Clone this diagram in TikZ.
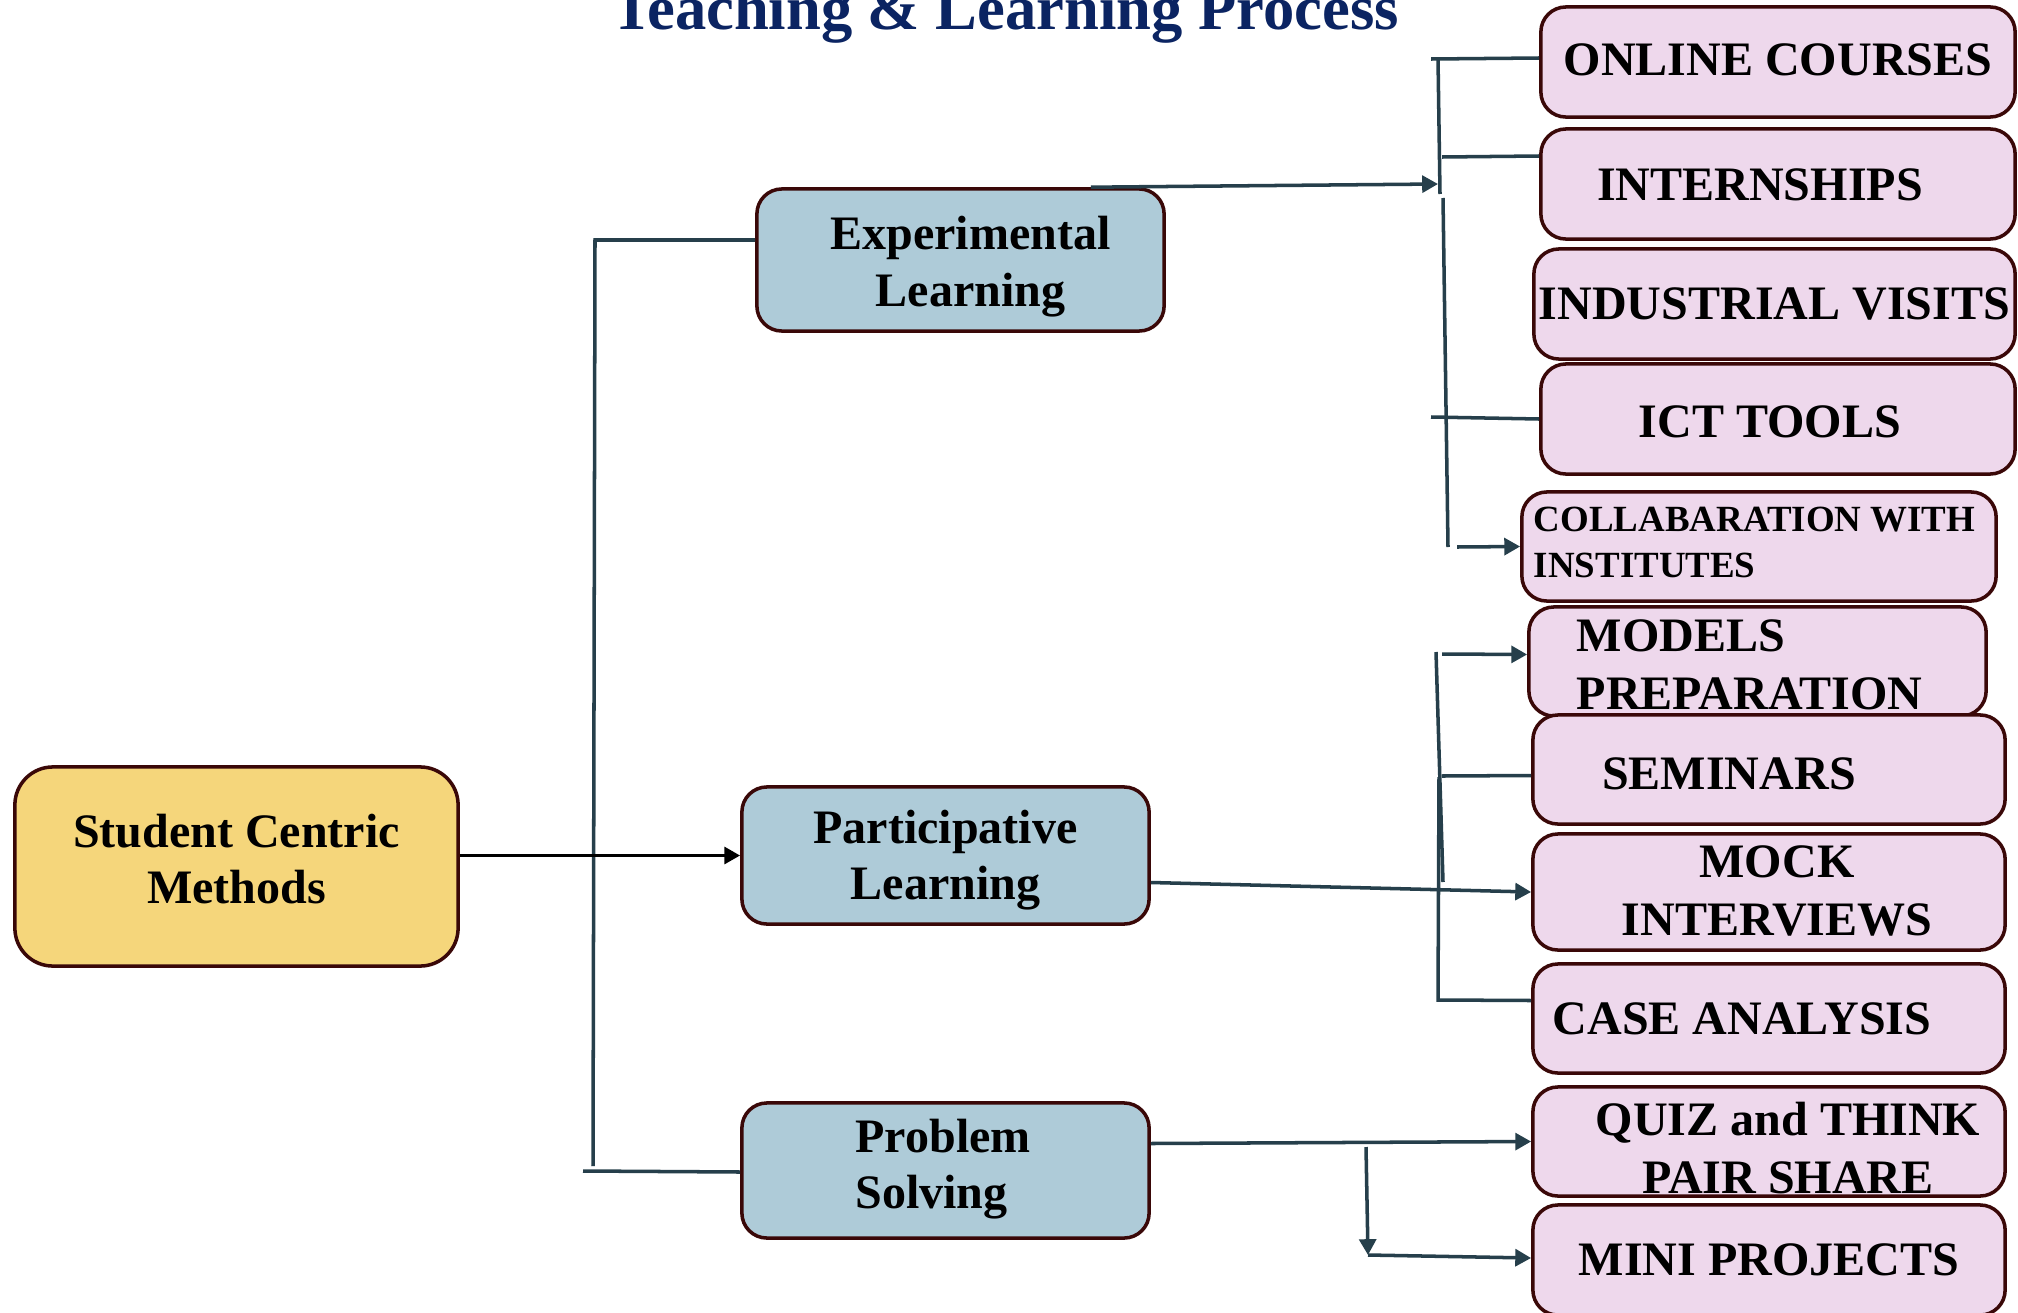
\documentclass[tikz,border=0pt]{standalone}
\usepackage{fontspec}
\setmainfont{Liberation Serif}
\usetikzlibrary{arrows.meta,calc}
\definecolor{titleblue}{HTML}{0B2462}
\definecolor{boxedge}{HTML}{3A0808}
\definecolor{yellowfill}{HTML}{F5D67B}
\definecolor{bluefill}{HTML}{AECBD8}
\definecolor{pinkfill}{HTML}{EED8EC}
\definecolor{linkcol}{HTML}{263F4B}
% #1 box height, #2 text width, #3 first baseline below top, #4 text
\newcommand\tbox[4]{\parbox[c][#1][t]{#2}{\vspace*{\dimexpr#3-\ht\strutbox\relax}\centering\strut #4}}
\begin{document}
\begin{tikzpicture}[x=0.01cm,y=-0.01cm,
  basebox/.style={draw=boxedge,line width=1pt,rounded corners=0.25cm,inner sep=0pt,
    font=\fontsize{13.66pt}{16.2pt}\selectfont\bfseries},
  mainbox/.style={basebox,fill=yellowfill,rounded corners=0.38cm,minimum width=4.43cm,minimum height=1.99cm},
  midbox/.style={basebox,fill=bluefill,minimum width=4.07cm},
  leafbox/.style={basebox,fill=pinkfill,minimum height=1.10cm},
  link/.style={draw=linkcol,line width=1pt},
  linkarrow/.style={link,-{Triangle[length=4.5pt,width=4.8pt]}},
]
\useasboundingbox (0,0) rectangle (2018,1312);
\fill[white] (0,0) rectangle (2018,1312);

% title
\node[anchor=base,text=titleblue,font=\fontsize{17.8pt}{20pt}\selectfont\bfseries] (title) at (1005,30) {Teaching \& Learning Process};

% main and middle boxes
\node[mainbox] (scm) at (236.5,866.5) {\tbox{1.99cm}{4.2cm}{0.80cm}{Student Centric\\Methods}};
\node[midbox,minimum height=1.42cm] (el) at (960.5,260) {\hspace*{0.2cm}\tbox{1.42cm}{3.6cm}{0.61cm}{Experimental\\Learning}};
\node[midbox,minimum height=1.37cm] (pl) at (945.5,855.5) {\tbox{1.37cm}{3.8cm}{0.56cm}{Participative\\Learning}};
\node[midbox,minimum height=1.35cm] (ps) at (945.5,1170.5) {\tbox{1.35cm}{1.8cm}{0.49cm}{\raggedright Problem\\Solving}};

% leaf boxes
\node[leafbox,minimum width=4.74cm] (online) at (1778,62) {\tbox{1.10cm}{4.5cm}{0.68cm}{ONLINE COURSES}};
\node[leafbox,minimum width=4.74cm] (intern) at (1778,184) {\tbox{1.10cm}{4.0cm}{0.71cm}{INTERNSHIPS}\hspace*{0.36cm}};
\node[leafbox,minimum width=4.81cm] (indus) at (1774.5,304) {\tbox{1.10cm}{4.75cm}{0.70cm}{INDUSTRIAL VISITS}};
\node[leafbox,minimum width=4.74cm] (ict) at (1778,419) {\tbox{1.10cm}{4.0cm}{0.73cm}{ICT TOOLS}\hspace*{0.16cm}};
\node[leafbox,minimum width=4.74cm,minimum height=1.09cm,font=\fontsize{10.5pt}{12.8pt}\selectfont\bfseries] (collab) at (1759,546.5) {\tbox{1.09cm}{4.5cm}{0.40cm}{\raggedright COLLABARATION WITH\\INSTITUTES}};
\node[leafbox,minimum width=4.57cm,minimum height=1.09cm,font=\fontsize{13.66pt}{16.5pt}\selectfont\bfseries] (models) at (1757.5,661.5) {\tbox{1.09cm}{3.61cm}{0.44cm}{\raggedright MODELS\\PREPARATION}};
\node[leafbox,minimum width=4.72cm,minimum height=1.09cm] (seminars) at (1769,769.5) {\tbox{1.09cm}{3.6cm}{0.74cm}{SEMINARS}\hspace*{0.8cm}};
\node[leafbox,minimum width=4.72cm,minimum height=1.16cm,font=\fontsize{13.66pt}{16.5pt}\selectfont\bfseries] (mock) at (1769,892) {\hspace*{0.16cm}\tbox{1.16cm}{4.0cm}{0.43cm}{MOCK\\INTERVIEWS}};
\node[leafbox,minimum width=4.72cm,minimum height=1.09cm] (case) at (1769,1018.5) {\tbox{1.09cm}{4.0cm}{0.70cm}{CASE ANALYSIS}\hspace*{0.54cm}};
\node[leafbox,minimum width=4.72cm,minimum height=1.09cm,font=\fontsize{13.66pt}{16.5pt}\selectfont\bfseries] (quiz) at (1769,1141.5) {\hspace*{0.38cm}\tbox{1.09cm}{4.1cm}{0.48cm}{QUIZ and THINK\\PAIR SHARE}};
\node[leafbox,minimum width=4.72cm] (mini) at (1769,1260) {\tbox{1.10cm}{4.5cm}{0.70cm}{MINI PROJECTS}};

% left bracket
\coordinate (lb1) at (595,240);
\coordinate (lb2) at (593,1166);
\coordinate (lb3) at (583,1171);
\draw[link] (el.west |- lb1) -- (lb1) -- (lb2);
\draw[link] (lb3) -- (ps.west |- 0,1172);

% main arrow
\draw[line width=1pt,-{Triangle[length=4.5pt,width=4.8pt]}] (scm.east |- pl.west) -- (pl.west);

% experimental learning group
\coordinate (ea) at (1438,184);
\coordinate (ev1) at (1438,59);
\coordinate (ev2) at (1440,194);
\coordinate (ev3) at (1443,198);
\coordinate (ev4) at (1448,547);
\draw[linkarrow] ($(el.north east)+(-75,0)$) -- (ea);
\draw[link] (ev1) -- (ev2);
\draw[link] (ev3) -- (ev4);
\draw[link] (1431,59) -- ($(online.west)+(0,-4)$);
\draw[link] (1442,157) -- ($(intern.west)+(0,-28)$);
\draw[link] (1431,417) -- (ict.west);
\draw[linkarrow] (1457,547) -- (collab.west);

% participative learning group
\coordinate (pv1) at (1436,652);
\coordinate (pv2) at (1443,882);
\coordinate (pv3) at (1439,777);
\coordinate (pv4) at (1438,1000);
\draw[link] (pv1) -- (pv2);
\draw[link] (pv3) -- (pv4) -- ($(case.west)+(0,-18)$);
\draw[linkarrow] (1442,654) -- ($(models.west)+(0,-7)$);
\draw[link] (1442,776) -- ($(seminars.west)+(0,6)$);
\draw[linkarrow] ($(pl.east)+(0,27)$) -- (mock.west);

% problem solving group
\coordinate (sv1) at (1366,1147);
\coordinate (sv2) at (1368,1255);
\draw[linkarrow] ($(ps.east)+(0,-27)$) -- (quiz.west);
\draw[linkarrow] (sv1) -- (sv2);
\draw[linkarrow] (sv2) -- ($(mini.west)+(0,-2)$);
\end{tikzpicture}
\end{document}
